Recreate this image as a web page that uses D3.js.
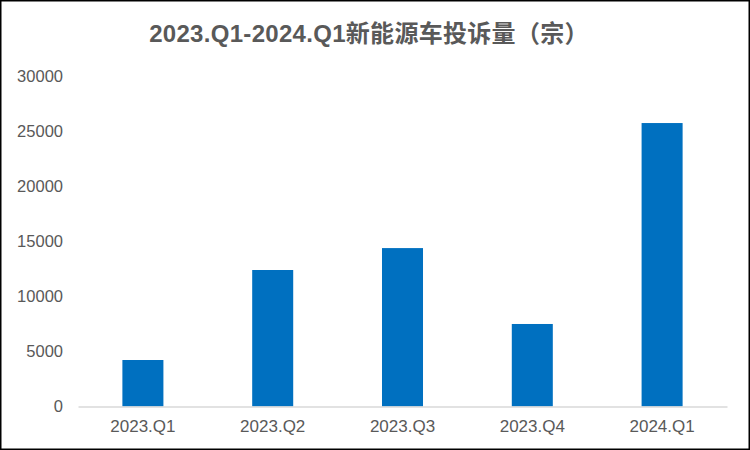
<!DOCTYPE html>
<html><head><meta charset="utf-8">
<script src="https://cdn.jsdelivr.net/npm/d3@7"></script>
<style>html,body{margin:0;padding:0;background:#fff}svg{display:block}</style>
</head><body>
<script>
const title = "2023.Q1-2024.Q1新能源车投诉量（宗）";
const categories = ["2023.Q1","2023.Q2","2023.Q3","2023.Q4","2024.Q1"];
const values = [4220, 12390, 14380, 7490, 25730];
const yTicks = [0,5000,10000,15000,20000,25000,30000];

const W = 750, H = 450;
const svg = d3.select("body").append("svg").attr("width", W).attr("height", H);
svg.append("rect").attr("x",0.75).attr("y",0.75).attr("width",W-1.5).attr("height",H-1.5)
  .attr("fill","#fff").attr("stroke","#000").attr("stroke-width",1.5);

const m = {left:78, right:23, top:76, bottom:43.5};
const x = d3.scaleBand().domain(categories).range([m.left, W-m.right]).padding(0);
const y = d3.scaleLinear().domain([0,30000]).range([H-m.bottom, m.top]);
const barW = x.bandwidth()*0.316;

svg.append("text").attr("x",369).attr("y",42).attr("text-anchor","middle")
  .attr("font-family","'Liberation Sans','Noto Sans CJK SC',sans-serif")
  .attr("font-size",24).attr("font-weight","bold").attr("letter-spacing",0.3)
  .attr("fill","#595959").text(title);

svg.selectAll("rect.bar").data(values).join("rect").attr("class","bar")
  .attr("x",(d,i)=>x(categories[i])+x.bandwidth()/2-barW/2)
  .attr("width",barW)
  .attr("y",d=>y(d)).attr("height",d=>y(0)-y(d)).attr("fill","#0070c0");

const yAxis = svg.append("g").attr("transform",`translate(${m.left},0)`)
  .call(d3.axisLeft(y).tickValues(yTicks).tickSize(0).tickPadding(15).tickFormat(d3.format("d")));
yAxis.select(".domain").remove();
yAxis.selectAll("text").attr("font-family","'Liberation Sans',Arial,sans-serif").attr("font-size",16.5).attr("fill","#595959");

const xAxis = svg.append("g").attr("transform",`translate(0,${y(0)})`)
  .call(d3.axisBottom(x).tickSize(0).tickPadding(13));
xAxis.select(".domain").attr("stroke","#d9d9d9").attr("stroke-width",1.5);
xAxis.selectAll("text").attr("font-family","'Liberation Sans',Arial,sans-serif").attr("font-size",17).attr("fill","#595959");
</script>
</body></html>
